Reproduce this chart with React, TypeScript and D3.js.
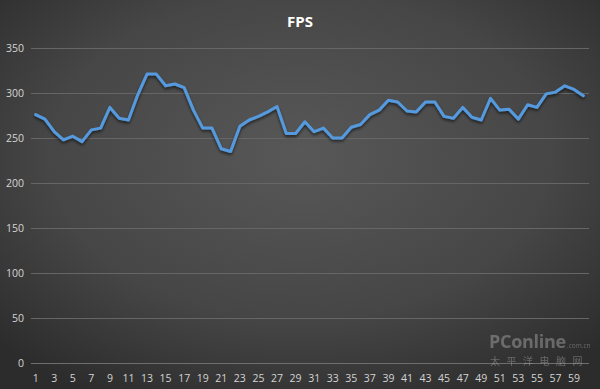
import { useEffect, useRef } from 'react';
import * as d3 from 'd3';

const categories = d3.range(1, 61).map(String);
const fps = [
  276, 271, 257, 248, 252, 246, 259, 261, 284, 272,
  270, 298, 321, 321, 308, 310, 306, 281, 261, 261,
  238, 235, 263, 270, 274, 279, 285, 255, 255, 268,
  257, 261, 250, 250, 262, 265, 276, 281, 292, 290,
  280, 279, 290, 290, 274, 272, 284, 273, 270, 294,
  281, 282, 271, 287, 284, 299, 301, 308, 304, 297,
];
const yTicks = [0, 50, 100, 150, 200, 250, 300, 350];
const xTickLabels = categories.filter((_, i) => i % 2 === 0);

export default function App() {
  const svgRef = useRef<SVGSVGElement>(null);

  useEffect(() => {
    if (!svgRef.current) return;
    const width = 600;
    const height = 389;

    const svg = d3.select(svgRef.current);
    svg.selectAll("*").remove();

    const defs = svg.append("defs");
    const bg = defs.append("radialGradient")
      .attr("id", "bg")
      .attr("cx", "50%").attr("cy", "40%").attr("r", "70%");
    bg.append("stop").attr("offset", "0%").attr("stop-color", "#585858");
    bg.append("stop").attr("offset", "60%").attr("stop-color", "#464646");
    bg.append("stop").attr("offset", "100%").attr("stop-color", "#2c2c2c");

    const glow = defs.append("filter").attr("id", "glow")
      .attr("x", "-5%").attr("y", "-20%").attr("width", "110%").attr("height", "140%");
    glow.append("feGaussianBlur").attr("in", "SourceAlpha").attr("stdDeviation", 1.5).attr("result", "b");
    glow.append("feOffset").attr("in", "b").attr("dy", 1.5).attr("result", "o");
    glow.append("feComponentTransfer").attr("in", "o").attr("result", "s")
      .append("feFuncA").attr("type", "linear").attr("slope", 0.6);
    const merge = glow.append("feMerge");
    merge.append("feMergeNode").attr("in", "s");
    merge.append("feMergeNode").attr("in", "SourceGraphic");

    svg.append("rect").attr("width", width).attr("height", height).attr("fill", "url(#bg)");

    const x = d3.scaleBand().domain(categories).range([31, 588]);
    const y = d3.scaleLinear().domain([0, 350]).range([363, 48]);
    const font = "'Open Sans', 'DejaVu Sans', sans-serif";

    // gridlines + y labels
    svg.append("g").selectAll("line").data(yTicks).join("line")
      .attr("x1", 31).attr("x2", 589)
      .attr("y1", d => y(d) + 0.5).attr("y2", d => y(d) + 0.5)
      .attr("stroke", d => d === 0 ? "#6e6e6e" : "#666666").attr("stroke-width", 1);

    svg.append("g").selectAll("text").data(yTicks).join("text")
      .attr("x", 24).attr("y", d => y(d) + 4)
      .attr("text-anchor", "end")
      .attr("fill", "#d4d4d4").attr("font-size", "10.5px").attr("font-family", font)
      .text(d => d);

    // watermark
    const wm = svg.append("g").attr("fill", "#bdbdbd").attr("opacity", 0.4).attr("font-family", font);
    wm.append("text").attr("x", 489).attr("y", 348).attr("font-size", "18px").attr("font-weight", "bold")
      .attr("letter-spacing", "-0.3px").text("PConline");
    wm.append("text").attr("x", 567).attr("y", 348).attr("font-size", "6.5px").text(".com.cn");
    wm.append("text").attr("x", 490).attr("y", 365).attr("font-size", "10px")
      .attr("letter-spacing", "6.5px").attr("font-family", "'Noto Sans CJK SC', sans-serif").text("太平洋电脑网");

    svg.append("g").selectAll("text").data(xTickLabels).join("text")
      .attr("x", d => (x(d) ?? 0) + x.bandwidth() / 2)
      .attr("y", 382)
      .attr("text-anchor", "middle")
      .attr("fill", "#d4d4d4").attr("font-size", "10.5px").attr("font-family", font)
      .text(d => d);

    // line
    const line = d3.line<number>()
      .x((_, i) => (x(categories[i]) ?? 0) + x.bandwidth() / 2)
      .y(d => y(d));

    svg.append("path")
      .datum(fps)
      .attr("d", line)
      .attr("fill", "none")
      .attr("stroke", "#559ade")
      .attr("stroke-width", 3)
      .attr("stroke-linejoin", "round")
      .attr("stroke-linecap", "round")
      .attr("filter", "url(#glow)");

    // title
    svg.append("text")
      .attr("x", 300).attr("y", 27)
      .attr("text-anchor", "middle")
      .attr("fill", "#ffffff").attr("font-size", "15px").attr("font-weight", "bold")
      .attr("font-family", font)
      .text("FPS");
  }, []);

  return (
    <svg ref={svgRef} width={600} height={389}
      style={{ position: 'absolute', left: 0, top: 0, display: 'block' }} />
  );
}
